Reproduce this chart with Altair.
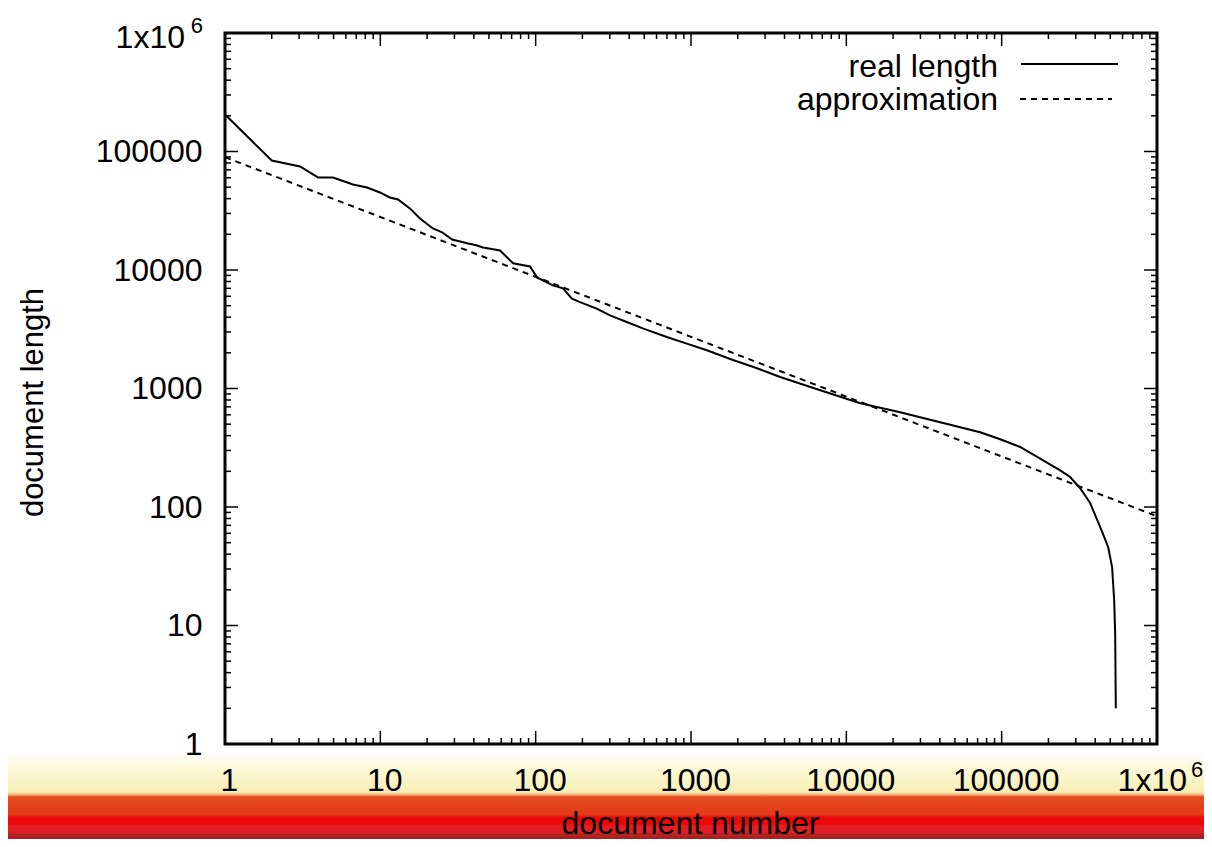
import altair as alt
import pandas as pd

# ---- data ----
real_n = [1, 2, 3.04, 3.97, 4.96, 6.67, 8.21, 9.95, 11.5, 13.0, 15.5, 18.0, 21.8, 25.0, 29.0,
          36.2, 42.0, 45.8, 59.0, 71.5, 92, 102, 129, 150, 171, 193, 247, 301, 386, 494, 698,
          940, 1265, 1880, 2530, 3750, 6800, 12300, 22200, 40200, 72700, 97800, 131500,
          177000, 238000, 276000, 320000, 371000, 400000, 431000, 457000, 485000, 514000,
          530000, 538000, 543000]
real_len = [205000, 84000, 74800, 60400, 60400, 52700, 49700, 45100, 40900, 39400, 33100,
            27200, 22400, 20800, 18100, 16800, 16100, 15500, 14600, 11400, 10700, 8660, 7420,
            7000, 5730, 5360, 4720, 4140, 3640, 3200, 2720, 2390, 2100, 1730, 1520, 1250, 966,
            750, 630, 519, 427, 373, 321, 256, 204, 179, 144, 108, 85.3, 67.6, 56, 45.8, 31.1,
            16.4, 8.6, 2]

approx_n = [1, 10, 100, 1000, 10000, 100000, 1000000]
approx_len = [89600, 28000, 8750, 2730, 855, 267, 83.6]

major_ticks = [1, 10, 100, 1000, 10000, 100000, 1000000]
minor_ticks = [m * 10 ** k for k in range(6) for m in range(2, 10)]
legend_labels = ["real length", "approximation"]

W, H = 932, 711
FONT = "Liberation Sans"

xscale = alt.Scale(type="log", domain=[1, 1000000], nice=False)
yscale = alt.Scale(type="log", domain=[1, 1000000], nice=False)

real_df = pd.DataFrame({"n": real_n, "len": real_len})
approx_df = pd.DataFrame({"n": approx_n, "len": approx_len})
maj_df = pd.DataFrame({"n": major_ticks, "len": major_ticks})
min_df = pd.DataFrame({"n": minor_ticks, "len": minor_ticks})
one = pd.DataFrame({"n": [1000000], "len": [1000000]})

xaxis = alt.Axis(values=major_ticks,
                 labelExpr="datum.value >= 1000000 ? '' : format(datum.value, 'd')",
                 title="document number", titleX=W / 2 - 1, titleY=89,
                 titleBaseline="alphabetic", titleFontSize=32, titleFontWeight="normal",
                 titleFont=FONT, titleColor="black",
                 labelFont=FONT, labelFontSize=32, labelColor="black",
                 labelBaseline="alphabetic", labelPadding=46, labelOffset=4,
                 labelFlush=False, labelOverlap=False,
                 ticks=False, tickSize=0, domain=False, grid=False, zindex=2)
yaxis = alt.Axis(values=major_ticks,
                 labelExpr="datum.value >= 1000000 ? '' : format(datum.value, 'd')",
                 title="document length", titleX=-192, titleY=369, titleAngle=270,
                 titleAlign="center", titleBaseline="middle", titleFontSize=31,
                 titleFontWeight="normal", titleFont=FONT, titleColor="black",
                 labelFont=FONT, labelFontSize=32, labelColor="black",
                 labelAlign="right", labelBaseline="middle", labelPadding=23,
                 labelOverlap=False,
                 ticks=False, tickSize=0, domain=False, grid=False, zindex=2)


def X():
    return alt.X("n:Q", scale=xscale, axis=xaxis)


def Y():
    return alt.Y("len:Q", scale=yscale, axis=yaxis)


# decorative band below the plot
band = alt.Chart(pd.DataFrame({"a": [0]})).mark_rect(
    color=alt.LinearGradient(
        gradient="linear", x1=0, x2=0, y1=0, y2=1,
        stops=[
            alt.GradientStop(color="#ffffff", offset=0.0),
            alt.GradientStop(color="#fcf8d8", offset=0.184),
            alt.GradientStop(color="#f7eeb4", offset=0.46),
            alt.GradientStop(color="#f5c890", offset=0.483),
            alt.GradientStop(color="#e44c1e", offset=0.517),
            alt.GradientStop(color="#e33a18", offset=0.724),
            alt.GradientStop(color="#ec0808", offset=0.747),
            alt.GradientStop(color="#ec0808", offset=0.828),
            alt.GradientStop(color="#e41e26", offset=0.851),
            alt.GradientStop(color="#e41e26", offset=0.92),
            alt.GradientStop(color="#b52424", offset=0.943),
            alt.GradientStop(color="#a62020", offset=1.0),
        ])
).encode(x=alt.value(-230), x2=alt.value(W + 60), y=alt.value(H + 8), y2=alt.value(H + 95))

real = alt.Chart(real_df).mark_line(color="black", strokeWidth=2).encode(x=X(), y=Y())
approx = alt.Chart(approx_df).mark_line(color="black", strokeWidth=2, strokeDash=[6, 5]).encode(
    x=X(), y=Y())


def xticks(df, L):
    b = alt.Chart(df).mark_rule(color="black", strokeWidth=1.5).encode(
        x=X(), y=alt.value(H), y2=alt.value(H - L))
    t = alt.Chart(df).mark_rule(color="black", strokeWidth=1.5).encode(
        x=X(), y=alt.value(0), y2=alt.value(L))
    return [b, t]


def yticks(df, L):
    l = alt.Chart(df).mark_rule(color="black", strokeWidth=1.5).encode(
        y=Y(), x=alt.value(0), x2=alt.value(L))
    r = alt.Chart(df).mark_rule(color="black", strokeWidth=1.5).encode(
        y=Y(), x=alt.value(W), x2=alt.value(W - L))
    return [l, r]


tick_layers = xticks(maj_df, 13) + xticks(min_df, 6) + yticks(maj_df, 13) + yticks(min_df, 6)

txt = dict(font=FONT, color="black")
ylab = alt.Chart(one).mark_text(text="1x10", fontSize=32, align="right", baseline="alphabetic",
                                dy=15, **txt).encode(y=Y(), x=alt.value(-40))
ysup = alt.Chart(one).mark_text(text="6", fontSize=22, align="right", baseline="alphabetic",
                                dy=0, **txt).encode(y=Y(), x=alt.value(-22))
xlab = alt.Chart(one).mark_text(text="1x10", fontSize=32, align="right", baseline="alphabetic",
                                dx=30, **txt).encode(x=X(), y=alt.value(H + 47))
xsup = alt.Chart(one).mark_text(text="6", fontSize=22, align="left", baseline="alphabetic",
                                dx=34, **txt).encode(x=X(), y=alt.value(H + 33))

leg_df = pd.DataFrame({"label": legend_labels})
leg1 = alt.Chart(leg_df.iloc[[0]]).mark_text(fontSize=32, align="right", baseline="alphabetic",
                                             **txt).encode(
    text="label:N", x=alt.value(773), y=alt.value(44))
leg2 = alt.Chart(leg_df.iloc[[1]]).mark_text(fontSize=32, align="right", baseline="alphabetic",
                                             **txt).encode(
    text="label:N", x=alt.value(773), y=alt.value(77))
legl1 = alt.Chart(leg_df.iloc[[0]]).mark_rule(color="black", strokeWidth=2).encode(
    x=alt.value(796), x2=alt.value(893), y=alt.value(31))
legl2 = alt.Chart(leg_df.iloc[[1]]).mark_rule(color="black", strokeWidth=2, strokeDash=[6, 5]).encode(
    x=alt.value(795), x2=alt.value(887), y=alt.value(66))

chart = alt.layer(
    band, real, approx, *tick_layers, ylab, ysup, xlab, xsup, leg1, leg2, legl1, legl2
).properties(
    width=W, height=H,
    autosize=alt.AutoSizeParams(type="none"),
    padding={"left": 217, "top": 25, "right": 47, "bottom": 95},
).configure(background="white").configure_view(stroke="black", strokeWidth=3)

chart.save("out.html", embed_options={"renderer": "svg", "actions": False})
